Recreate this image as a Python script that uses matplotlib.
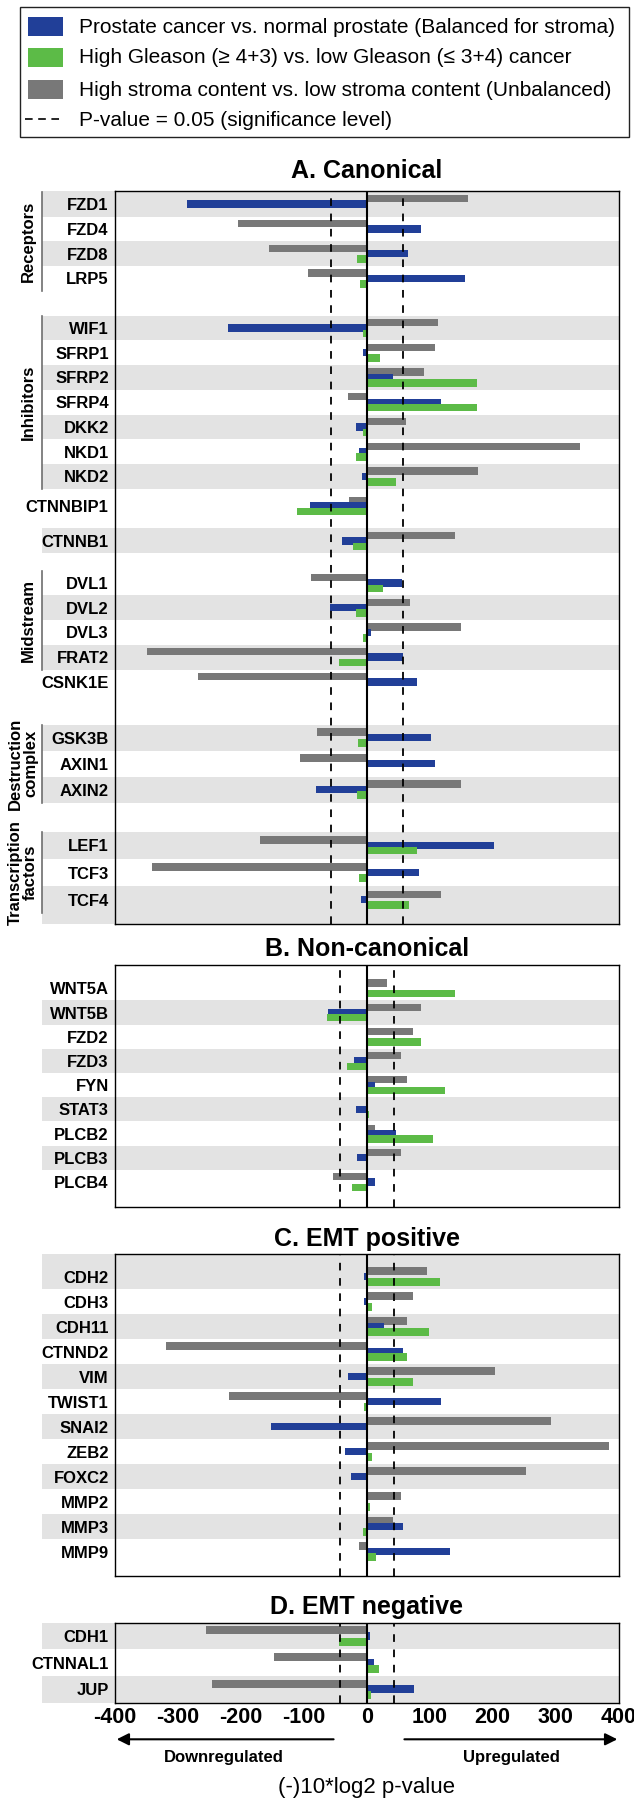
import matplotlib
matplotlib.use('Agg')
import matplotlib.pyplot as plt
from matplotlib.patches import Rectangle
from matplotlib.lines import Line2D

plt.rcParams['font.family'] = ['Liberation Sans', 'DejaVu Sans']
plt.rcParams['lines.scale_dashes'] = False

# ------------------------------------------------------------------ data
legend_labels = [
    "Prostate cancer vs. normal prostate (Balanced for stroma)",
    "High Gleason (\u2265 4+3) vs. low Gleason (\u2264 3+4) cancer",
    "High stroma content vs. low stroma content (Unbalanced)",
    "P-value = 0.05 (significance level)",
]

panel_titles = ["A. Canonical", "B. Non-canonical", "C. EMT positive", "D. EMT negative"]

genes_A = ["FZD1", "FZD4", "FZD8", "LRP5",
           "WIF1", "SFRP1", "SFRP2", "SFRP4", "DKK2", "NKD1", "NKD2",
           "CTNNBIP1", "CTNNB1",
           "DVL1", "DVL2", "DVL3", "FRAT2", "CSNK1E",
           "GSK3B", "AXIN1", "AXIN2",
           "LEF1", "TCF3", "TCF4"]
blue_A = [-285, 85.5, 66, 156, -220, -6.5, 41, 118, -17.6, -12.4, -7.8,
          -90.7, -39.8, 56.8, -58, 6, 57.4, 79.6, 102.4, 108.3, -80.3,
          201.6, 83.5, -8.5]
green_A = [0, 0, -15.6, -10, -6, 21.5, 175, 175.5, -6, -17, 46,
           -111.6, -22, 25.4, -17, -6.5, -43.7, 0, -13.7, 0, -15,
           80.3, -13, 66.5]
gray_A = [160.5, -205, -156, -93, 113, 108, 90.7, -30, 63, 338.6, 177,
          -28.7, 140, -88.7, 69, 149, -349.7, -268.8, -79, -105.7, 149.4,
          -170.3, -341.3, 118]

genes_B = ["WNT5A", "WNT5B", "FZD2", "FZD3", "FYN", "STAT3", "PLCB2", "PLCB3", "PLCB4"]
blue_B = [0, -62, 0, -20.9, 12.4, -17, 46.3, -15.7, 13.7]
green_B = [139.6, -63.3, 86, -31.3, 124.6, 4, 105.7, 2, -23.5]
gray_B = [32, 86, 73.7, 54.8, 64, 0, 13.7, 54.8, -52.9]

genes_C = ["CDH2", "CDH3", "CDH11", "CTNND2", "VIM", "TWIST1", "SNAI2",
           "ZEB2", "FOXC2", "MMP2", "MMP3", "MMP9"]
blue_C = [-4, -4, 28, 58, -29.4, 117.5, -151.4, -35.2, -25.4, 0, 58, 131.8]
green_C = [116, 7.8, 98.5, 64, 73.7, -4, 0, 9, 0, 4.5, -6, 15]
gray_C = [95, 73.7, 64, -318.4, 204, -219, 293, 384.3, 253.8, 54.8, 41.8, -12.4]

genes_D = ["CDH1", "CTNNAL1", "JUP"]
blue_D = [4.6, 11, 75.7]
green_D = [-43.7, 20, 6]
gray_D = [-255, -146.8, -246.6]

threshold_A = 57.5
threshold_BCD = 43.2   # -10*log2(0.05)

x_ticks = [-400, -300, -200, -100, 0, 100, 200, 300, 400]

# ------------------------------------------------------------------ layout (row units)
group_labels_A = ["Receptors", "Inhibitors", None, None, "Midstream", None,
                  "Destruction\ncomplex", "Transcription\nfactors"]
group_sizes_A = [4, 7, 1, 1, 4, 1, 3, 3]
group_start_A = [0, 5, 12.2, 13.6, 15.3, 19.3, 21.55, 25.9]
group_pitch_A = [1, 1, 1, 1, 1, 1, 1.05, 1.1]

shaded_A = ["FZD1", "FZD8", "WIF1", "SFRP2", "DKK2", "NKD2", "CTNNB1",
            "DVL2", "FRAT2", "GSK3B", "AXIN2", "LEF1", "TCF4"]
shaded_B = ["WNT5B", "FZD3", "STAT3", "PLCB3"]
shaded_C = ["CDH2", "CDH11", "VIM", "SNAI2", "FOXC2", "MMP3"]
shaded_D = ["CDH1", "JUP"]

COL_BLUE = '#213F98'
COL_GREEN = '#5CBB47'
COL_GRAY = '#787878'
COL_BAND = '#E3E3E3'

W, H = 634, 1800
AX_L, AX_R = 115.0, 618.5

fig = plt.figure(figsize=(W / 100, H / 100), dpi=100)


def fx(x):
    return x / W


def fy(y):
    return 1 - y / H


def make_axes(top, bottom):
    return fig.add_axes([fx(AX_L), fy(bottom), (AX_R - AX_L) / W, (bottom - top) / H])


BAND_LEFT = (41.5 - AX_L) / (AX_R - AX_L)


def draw_panel(ax, genes, pos, pitch, blue, green, gray, shaded, ylim, thr, show_x):
    top, bottom = ylim
    for i, g in enumerate(genes):
        if g in shaded:
            y0 = pos[i] - 0.5 * pitch[i]
            y1 = pos[i] + 0.5 * pitch[i]
            if y0 - top < 0.6:
                y0 = top
            if bottom - y1 < 0.6:
                y1 = bottom
            ax.axhspan(y0, y1, xmin=BAND_LEFT, xmax=1, color=COL_BAND, lw=0,
                       zorder=0, clip_on=False)
    h = 0.3
    ax.barh([p - 0.22 for p in pos], gray, height=h, color=COL_GRAY, zorder=2, lw=0)
    ax.barh(pos, blue, height=h, color=COL_BLUE, zorder=3, lw=0)
    ax.barh([p + 0.22 for p in pos], green, height=h, color=COL_GREEN, zorder=4, lw=0)
    ax.axvline(0, color='black', lw=1.5, zorder=6)
    for t in (-thr, thr):
        ax.axvline(t, color='black', lw=1.3, dashes=(5.5, 5.5), zorder=6)
    ax.set_xlim(-400, 400)
    ax.set_ylim(bottom, top)
    ax.set_yticks(pos)
    ax.set_yticklabels(genes, fontsize=12, fontweight='bold')
    ax.tick_params(axis='y', length=0, pad=4.5)
    if show_x:
        ax.set_xticks(x_ticks)
        ax.set_xticklabels([str(v) for v in x_ticks], fontsize=15.5, fontweight='bold')
        ax.tick_params(axis='x', length=0, pad=3)
    else:
        ax.set_xticks([])
    for s in ax.spines.values():
        s.set_linewidth(1.0)
        s.set_color('black')
        s.set_zorder(7)
    ax.patch.set_alpha(0)


# ---- panel A
pos_A, pitch_A, spans_A = [], [], []
for size, start, p in zip(group_sizes_A, group_start_A, group_pitch_A):
    pp = [start + k * p for k in range(size)]
    pos_A += pp
    pitch_A += [p] * size
    spans_A.append((pp[0] - 0.5 * p, pp[-1] + 0.5 * p))

axA = make_axes(191, 924)
ylim_A = (-0.533, 29.08)
draw_panel(axA, genes_A, pos_A, pitch_A, blue_A, green_A, gray_A, shaded_A,
           ylim_A, threshold_A, False)

# group brackets and labels
for lab, (y0, y1) in zip(group_labels_A, spans_A):
    if lab is None:
        continue
    y0 = max(y0, ylim_A[0])
    y1 = min(y1, ylim_A[1])
    axA.plot([BAND_LEFT, BAND_LEFT], [y0, y1], transform=axA.get_yaxis_transform(),
             color='#6E6E6E', lw=1.2, clip_on=False, zorder=8)
    xl = 28.5 if '\n' not in lab else 23
    axA.text((xl - AX_L) / (AX_R - AX_L), (y0 + y1) / 2, lab,
             transform=axA.get_yaxis_transform(), rotation=90, ha='center',
             va='center', multialignment='center', fontsize=12,
             fontweight='bold', linespacing=1.0, clip_on=False)

# ---- panel B
axB = make_axes(965, 1206.7)
pos_B = list(range(len(genes_B)))
draw_panel(axB, genes_B, pos_B, [1] * len(genes_B), blue_B, green_B, gray_B,
           shaded_B, (-0.963, 9.02), threshold_BCD, False)

# ---- panel C
axC = make_axes(1254, 1576)
pos_C = list(range(len(genes_C)))
draw_panel(axC, genes_C, pos_C, [1] * len(genes_C), blue_C, green_C, gray_C,
           shaded_C, (-0.908, 11.97), threshold_BCD, False)

# ---- panel D
axD = make_axes(1622.7, 1702.7)
pos_D = list(range(len(genes_D)))
draw_panel(axD, genes_D, pos_D, [1] * len(genes_D), blue_D, green_D, gray_D,
           shaded_D, (-0.5, 2.5), threshold_BCD, True)

# ---- titles
xc = (AX_L + AX_R) / 2
for t, base in zip(panel_titles, [178.3, 956, 1246, 1614]):
    fig.text(fx(xc), fy(base), t, ha='center', va='baseline', fontsize=18,
             fontweight='bold')

# ---- bottom annotations
fig.text(fx(xc), fy(1793), "(-)10*log2 p-value", ha='center', va='baseline', fontsize=16)
fig.text(fx(224), fy(1761.7), "Downregulated", ha='center', va='baseline',
         fontsize=12, fontweight='bold')
fig.text(fx(511.5), fy(1761.7), "Upregulated", ha='center', va='baseline',
         fontsize=12, fontweight='bold')
arrow_kw = dict(arrowstyle='-|>', color='black', lw=1.5, mutation_scale=18,
                shrinkA=0, shrinkB=0)
axD.annotate('', xy=(fx(116.7), fy(1739.3)), xytext=(fx(333.6), fy(1739.3)),
             xycoords='figure fraction', textcoords='figure fraction',
             arrowprops=arrow_kw, annotation_clip=False)
axD.annotate('', xy=(fx(617.3), fy(1739.3)), xytext=(fx(404.4), fy(1739.3)),
             xycoords='figure fraction', textcoords='figure fraction',
             arrowprops=arrow_kw, annotation_clip=False)

# ---- legend
fig.patches.append(Rectangle((fx(20), fy(137)), fx(629) - fx(20), fy(7.3) - fy(137),
                             transform=fig.transFigure, fill=False,
                             edgecolor='#222222', lw=1.0))
leg_cols = [COL_BLUE, COL_GREEN, COL_GRAY]
leg_centers = [26.7, 57.2, 89.2]
for c, yc in zip(leg_cols, leg_centers):
    fig.patches.append(Rectangle((fx(28.3), fy(yc + 9.5)), fx(35), 19 / H,
                                 transform=fig.transFigure, facecolor=c,
                                 edgecolor='none'))
fig.lines.append(Line2D([fx(25), fx(63.5)], [fy(118.5)] * 2, transform=fig.transFigure,
                        color='black', lw=1.2, dashes=(5.5, 4)))
for lab, base in zip(legend_labels, [33.3, 63.3, 95.7, 125.7]):
    fig.text(fx(79), fy(base), lab, ha='left', va='baseline', fontsize=15)

fig.savefig('out.png', dpi=100)
